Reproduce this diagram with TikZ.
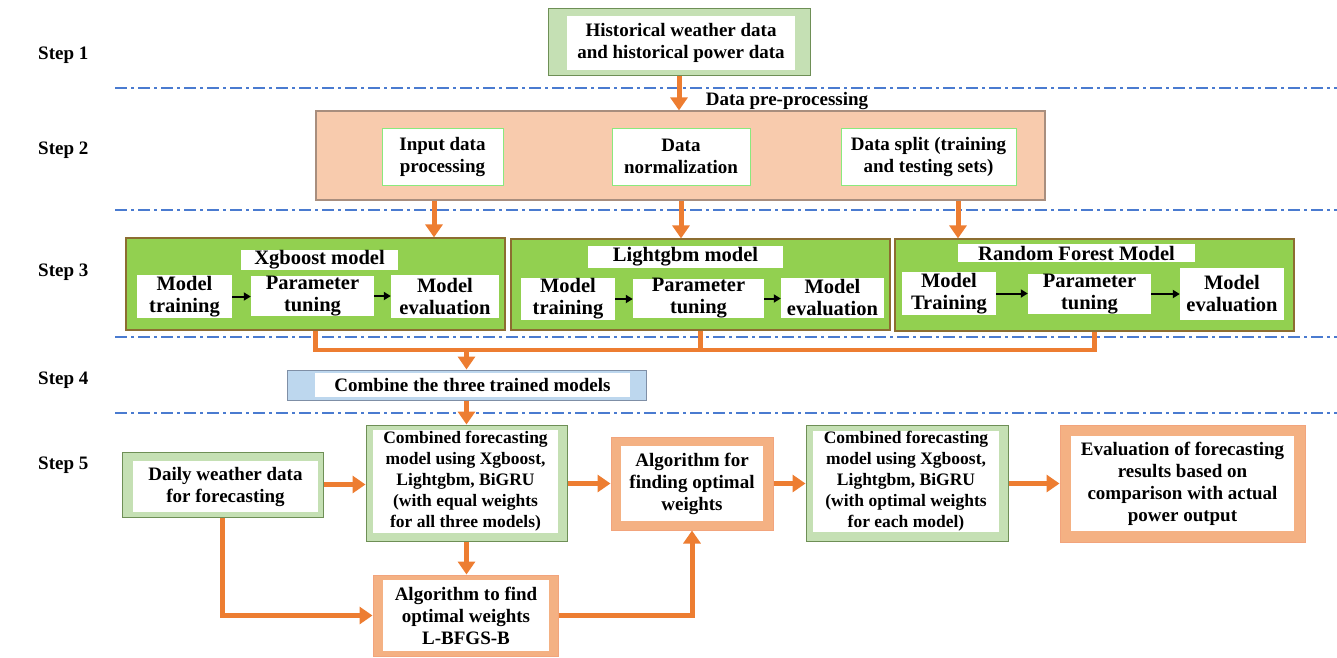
\documentclass[tikz,border=0pt]{standalone}
\usepackage{fontspec}
\setmainfont{Liberation Serif}
\usetikzlibrary{arrows.meta,calc}
\definecolor{lgreen}{HTML}{C5E0B4}
\definecolor{dgreen}{HTML}{6E8F56}
\definecolor{salmon}{HTML}{F8CBAD}
\definecolor{salmonb}{HTML}{A88E7E}
\definecolor{vgreen}{HTML}{92D050}
\definecolor{vgreenb}{HTML}{8C6D31}
\definecolor{lblue}{HTML}{BDD7EE}
\definecolor{lblueb}{HTML}{7F8FA6}
\definecolor{oarrc}{HTML}{ED7D31}
\definecolor{ofill}{HTML}{F4B183}
\definecolor{oedge}{HTML}{F2A47C}
\definecolor{dashblue}{HTML}{4A7BD0}
\tikzset{
  txt/.style={font=\bfseries\fontsize{19}{22}\selectfont},
  bigtxt/.style={font=\bfseries\fontsize{20.5}{22}\selectfont},
  smalltxt/.style={font=\bfseries\fontsize{17.5}{21}\selectfont},
  gout/.style={draw=dgreen, fill=lgreen, line width=1pt, inner sep=0pt},
  pout/.style={draw=salmonb, fill=salmon, line width=1.2pt, inner sep=0pt},
  vout/.style={draw=vgreenb, fill=vgreen, line width=1.2pt, inner sep=0pt},
  bout/.style={draw=lblueb, fill=lblue, line width=1pt, inner sep=0pt},
  oout/.style={draw=oedge, fill=ofill, line width=1pt, inner sep=0pt},
  wbox/.style={fill=white, inner sep=0pt, align=center, txt},
  vwbox/.style={wbox, bigtxt},
  gwbox/.style={fill=white, draw=lgreen!70!green, line width=0.8pt, inner sep=0pt, align=center, txt},
  stepl/.style={txt, anchor=west, inner sep=0pt},
  oarr/.style={draw=oarrc, line width=5pt, -{Triangle[width=17pt,length=13pt]}},
  oline/.style={draw=oarrc, line width=4.5pt},
  barr/.style={draw=black, line width=2pt, -{Triangle[width=8pt,length=7pt]}},
  sepline/.style={draw=dashblue, line width=1.2pt, dash pattern=on 12pt off 4pt on 3pt off 4pt}
}
\begin{document}
\begin{tikzpicture}[x=1pt,y=-1pt]
\useasboundingbox (0,0) rectangle (1337,657);

% separators
\coordinate (s1a) at (115,88);  \coordinate (s1b) at (1337,88);
\coordinate (s2a) at (115,210); \coordinate (s2b) at (1337,210);
\coordinate (s3a) at (115,337); \coordinate (s3b) at (1337,337);
\coordinate (s4a) at (115,413); \coordinate (s4b) at (1337,413);
\draw[sepline] (s1a) -- (s1b);
\draw[sepline] (s2a) -- (s2b);
\draw[sepline] (s3a) -- (s3b);
\draw[sepline] (s4a) -- (s4b);

% step labels
\node[stepl] (st1) at (38,55) {Step 1};
\node[stepl] (st2) at (38,150) {Step 2};
\node[stepl] (st3) at (38,272) {Step 3};
\node[stepl] (st4) at (38,380) {Step 4};
\node[stepl] (st5) at (38,465) {Step 5};

% Step 1
\node[gout, minimum width=262pt, minimum height=67pt] (hist) at (679,41.5) {};
\node[wbox, minimum width=228pt, minimum height=54pt] (histt) at (681,43) {Historical weather data\\and historical power data};

% Step 2
\node[pout, minimum width=729pt, minimum height=89pt] (pre) at (680.5,155.5) {};
\node[gwbox, minimum width=121pt, minimum height=57pt] (inp) at (442.5,156.5) {Input data\\processing};
\node[gwbox, minimum width=138pt, minimum height=57pt] (norm) at (681,156.5) {Data\\normalization};
\node[gwbox, minimum width=175pt, minimum height=57pt] (split) at (928.5,156.5) {Data split (training\\and testing sets)};
\node[txt, inner sep=0pt] (prelab) at (787,101) {Data pre-processing};
\draw[oarr] (hist.south) -- (pre.north -| hist.south);

% Step 3
\node[vout, minimum width=379pt, minimum height=92pt] (xgb) at (315.5,284) {};
\node[vwbox, minimum width=157pt, minimum height=20pt] (xgbt) at (319.5,260) {Xgboost model};
\node[vwbox, minimum width=95pt, minimum height=43pt] (xmt) at (184.5,296.5) {Model\\training};
\node[vwbox, minimum width=123pt, minimum height=36pt] (xpt) at (312.5,296) {Parameter\\tuning};
\node[vwbox, minimum width=108pt, minimum height=43pt] (xme) at (445,296.5) {Model\\evaluation};
\draw[barr] (xmt.east) -- (xpt.west |- xmt.east);
\draw[barr] (xpt.east) -- (xme.west |- xpt.east);

\node[vout, minimum width=379pt, minimum height=91pt] (lgb) at (700.5,284.5) {};
\node[vwbox, minimum width=195pt, minimum height=22pt] (lgbt) at (685.5,257) {Lightgbm model};
\node[vwbox, minimum width=94pt, minimum height=42pt] (lmt) at (568,299) {Model\\training};
\node[vwbox, minimum width=131pt, minimum height=37pt] (lpt) at (698.5,298.5) {Parameter\\tuning};
\node[vwbox, minimum width=103pt, minimum height=40pt] (lme) at (832.5,298) {Model\\evaluation};
\draw[barr] (lmt.east) -- (lpt.west |- lmt.east);
\draw[barr] (lpt.east) -- (lme.west |- lpt.east);

\node[vout, minimum width=399pt, minimum height=92pt] (rf) at (1094.5,285) {};
\node[vwbox, minimum width=237pt, minimum height=18pt] (rft) at (1076.5,253) {Random Forest Model};
\node[vwbox, minimum width=94pt, minimum height=43pt] (rmt) at (949,293.5) {Model\\Training};
\node[vwbox, minimum width=123pt, minimum height=36pt] (rpt) at (1089.5,294) {Parameter\\tuning};
\node[vwbox, minimum width=104pt, minimum height=52pt] (rme) at (1232,294) {Model\\evaluation};
\draw[barr] (rmt.east) -- (rpt.west |- rmt.east);
\draw[barr] (rpt.east) -- (rme.west |- rpt.east);

\coordinate (d1) at (434,0);
\coordinate (d3) at (958,0);
\draw[oarr] (pre.south -| d1) -- (xgb.north -| d1);
\draw[oarr] (pre.south -| norm.south) -- (lgb.north -| norm.south);
\draw[oarr] (pre.south -| d3) -- (rf.north -| d3);

% Step 4
\node[bout, minimum width=359pt, minimum height=30pt] (comb) at (466.5,385) {};
\node[wbox, minimum width=315pt, minimum height=24pt] (combt) at (472.5,385) {Combine the three trained models};

\coordinate (jy) at (0,350);
\draw[oline] (xgb.south) -- (xgb.south |- jy) -- (rf.south |- jy) -- (rf.south);
\draw[oline] (lgb.south) -- (lgb.south |- jy);
\draw[oarr] (comb.north |- jy) -- (comb.north);

% Step 5
\node[gout, minimum width=201pt, minimum height=65pt] (daily) at (222.5,484.5) {};
\node[wbox, minimum width=185pt, minimum height=51pt] (dailyt) at (225.5,486.5) {Daily weather data\\for forecasting};

\node[gout, minimum width=201pt, minimum height=116pt] (cf1) at (466.5,483) {};
\node[wbox, smalltxt, minimum width=185pt, minimum height=103pt] (cf1t) at (465.5,481.5) {Combined forecasting\\model using Xgboost,\\Lightgbm, BiGRU\\(with equal weights\\for all three models)};

\node[oout, minimum width=162pt, minimum height=93pt] (alg) at (692,483.5) {};
\node[wbox, minimum width=142pt, minimum height=75pt] (algt) at (692,483.5) {Algorithm for\\finding optimal\\weights};

\node[gout, minimum width=202pt, minimum height=116pt] (cf2) at (907,483) {};
\node[wbox, smalltxt, minimum width=186pt, minimum height=101pt] (cf2t) at (906,481.5) {Combined forecasting\\model using Xgboost,\\Lightgbm, BiGRU\\(with optimal weights\\for each model)};

\node[oout, minimum width=245pt, minimum height=117pt] (eval) at (1182.5,483.5) {};
\node[wbox, minimum width=223pt, minimum height=95pt] (evalt) at (1182.5,483.5) {Evaluation of forecasting\\results based on\\comparison with actual\\power output};

\node[oout, minimum width=185pt, minimum height=81pt] (lb) at (465.5,615.5) {};
\node[wbox, minimum width=166pt, minimum height=71pt] (lbt) at (466,615.5) {Algorithm to find\\optimal weights\\L-BFGS-B};

\draw[oarr] (comb.south) -- (cf1.north);
\draw[oarr] (daily.east) -- (cf1.west |- daily.east);
\draw[oarr] (cf1.east |- alg.west) -- (alg.west);
\draw[oarr] (alg.east) -- (cf2.west |- alg.east);
\draw[oarr] (cf2.east |- eval.west) -- (eval.west);
\draw[oarr] (cf1.south) -- (lb.north -| cf1.south);
\draw[oarr] (daily.south) |- (lb.west);
\draw[oarr] (lb.east) -| (alg.south);
\end{tikzpicture}
\end{document}
